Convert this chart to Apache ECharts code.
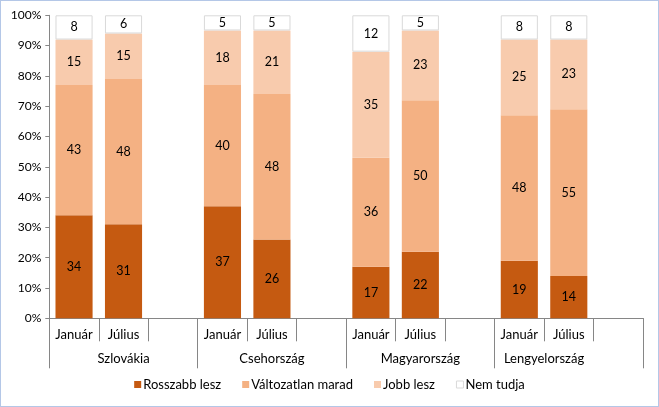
<!DOCTYPE html>
<html>
<head>
<meta charset="utf-8">
<script src="https://cdn.jsdelivr.net/npm/echarts@6/dist/echarts.min.js"></script>
<style>
html,body{margin:0;padding:0;background:#fff;}
#wrap{position:absolute;left:0;top:0;width:657px;height:405px;border:1px solid #B4C7E7;}
#chart{width:657px;height:405px;}
</style>
</head>
<body>
<div id="wrap"><div id="chart"></div></div>
<script>
// ---- data ----
const countries = ['Szlovákia', 'Csehország', 'Magyarország', 'Lengyelország'];
const months = ['Január', 'Július'];
const seriesNames = ['Rosszabb lesz', 'Változatlan marad', 'Jobb lesz', 'Nem tudja'];
// order: Szl Jan, Szl Júl, Cseh Jan, Cseh Júl, Magy Jan, Magy Júl, Lengy Jan, Lengy Júl
const rosszabb    = [34, 31, 37, 26, 17, 22, 19, 14];
const valtozatlan = [43, 48, 40, 48, 36, 50, 48, 55];
const jobb        = [15, 15, 18, 21, 35, 23, 25, 23];
const nemTudja    = [8, 6, 5, 5, 12, 5, 8, 8];
const yTicks = [0, 10, 20, 30, 40, 50, 60, 70, 80, 90, 100];

// ---- layout helpers ----
const groupLabelSlot = [1.5, 4.5, 7.5, 10]; // label centre in slot units
const colors = ['#C55A11', '#F4B183', '#F8CBAD', '#FFFFFF'];

const cats = [];
countries.forEach(() => { months.forEach(m => cats.push(m)); cats.push(''); });
const nSlots = cats.length;

function expand(arr) {
  const out = [];
  for (let g = 0; g < countries.length; g++) {
    out.push(arr[g * 2], arr[g * 2 + 1], null);
  }
  return out;
}

const valueLists = [rosszabb, valtozatlan, jobb, nemTudja];
const FONT = 'Lato';

const series = seriesNames.map((name, i) => ({
  name: name,
  type: 'bar',
  stack: 'total',
  xAxisIndex: 0,
  barWidth: '75%',
  data: expand(valueLists[i]),
  itemStyle: i === 3 ? { color: colors[i], borderColor: '#D9D9D9', borderWidth: 1 } : { color: colors[i] },
  label: { show: true, position: 'inside', color: '#000', fontSize: 12.5, fontFamily: FONT },
  emphasis: { disabled: true }
}));

const chart = echarts.init(document.getElementById('chart'), null, { renderer: 'canvas' });
chart.setOption({
  animation: false,
  backgroundColor: '#fff',
  grid: { left: 48.3, right: 15, top: 14.3, bottom: 87.7 },
  legend: {
    data: seriesNames.map((n, i) => ({
      name: n,
      itemStyle: i === 3 ? { color: '#fff', borderColor: '#D9D9D9', borderWidth: 1 } : { color: colors[i] }
    })),
    bottom: 10,
    left: 'center',
    icon: 'rect',
    itemWidth: 7,
    itemHeight: 7,
    itemGap: 21,
    textStyle: { fontSize: 13, fontFamily: FONT, color: '#000', padding: [0, 0, 0, -3] },
    selectedMode: false
  },
  xAxis: [
    {
      type: 'category',
      data: cats,
      axisLine: { lineStyle: { color: '#868686' } },
      axisTick: { show: true, interval: 0, length: 23, lineStyle: { color: '#868686' } },
      axisLabel: { interval: 0, margin: 10, color: '#000', fontSize: 13, fontFamily: FONT }
    },
    {
      type: 'value', min: 0, max: nSlots, interval: 3, position: 'bottom',
      axisLine: { show: false },
      axisTick: { show: true, length: 50, lineStyle: { color: '#868686' } },
      axisLabel: { show: false },
      splitLine: { show: false }
    },
    {
      type: 'value', min: 0, max: nSlots, interval: 0.5, position: 'bottom',
      axisLine: { show: false },
      axisTick: { show: false },
      splitLine: { show: false },
      axisLabel: {
        margin: 34, color: '#000', fontSize: 13, fontFamily: FONT,
        formatter: function (v) {
          for (let i = 0; i < groupLabelSlot.length; i++) {
            if (Math.abs(v - groupLabelSlot[i]) < 1e-6) return countries[i];
          }
          return '';
        }
      }
    }
  ],
  yAxis: {
    type: 'value',
    min: yTicks[0],
    max: yTicks[yTicks.length - 1],
    interval: yTicks[1] - yTicks[0],
    axisLine: { show: true, lineStyle: { color: '#868686' } },
    axisTick: { show: true, length: 4, lineStyle: { color: '#868686' } },
    splitLine: { show: false },
    axisLabel: { formatter: '{value}%', color: '#000', fontSize: 12, fontFamily: FONT, margin: 8 }
  },
  series: series
});
</script>
</body>
</html>
